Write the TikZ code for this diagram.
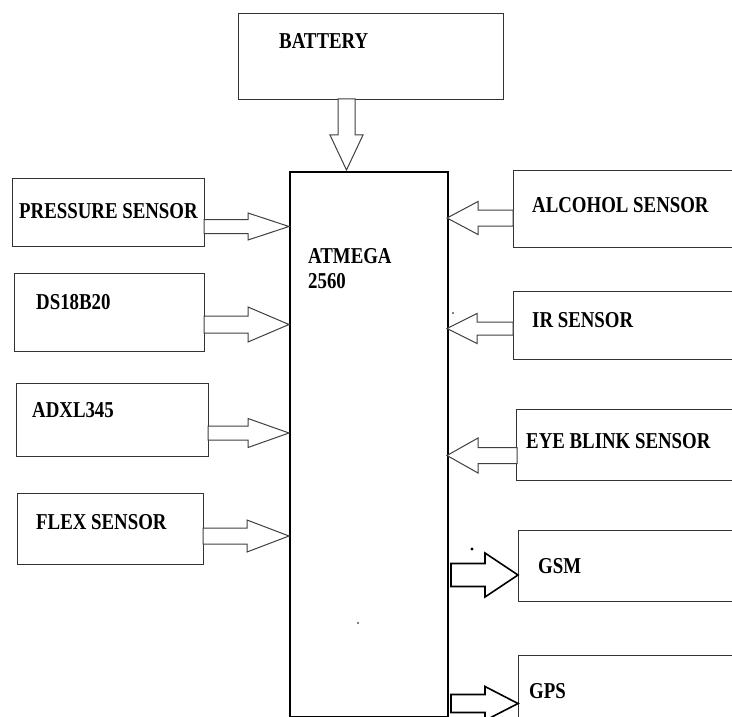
\documentclass[tikz,border=0pt]{standalone}
\usepackage{fontspec}
\setmainfont{Liberation Serif}[FakeStretch=0.83]
\newcommand\harrow[7][]{% tail x, head-base x, tip x, centre y, shaft half, head half
  \draw[barrow,#1] (#2,#5-#6) -- (#3,#5-#6) -- (#3,#5-#7) -- (#4,#5) -- (#3,#5+#7) -- (#3,#5+#6) -- (#2,#5+#6) -- cycle;}
\begin{document}
\begin{tikzpicture}[x=1pt,y=-1pt,
  box/.style={draw=black!80,line width=1.4pt,inner sep=0pt,anchor=north west},
  lbl/.style={anchor=base west,inner sep=0pt,font=\fontsize{22.7}{26}\selectfont\bfseries},
  barrow/.style={draw=black!75,line width=1pt,fill=white,line join=miter},
  outarrow/.style={draw=black,line width=1.6pt}]
\clip (0,0) rectangle (732,717);
\fill[white] (0,0) rectangle (732,717);
% boxes
\node[box,minimum width=265pt,minimum height=86pt] (bat) at (238,13) {};
\node[box,draw=black,line width=2pt,minimum width=158pt,minimum height=545pt] (mcu) at (289,171) {};
\node[box,minimum width=192pt,minimum height=68pt] (pres) at (12,178) {};
\node[box,minimum width=190pt,minimum height=78pt] (ds) at (14,273) {};
\node[box,minimum width=192pt,minimum height=73pt] (adxl) at (16,383) {};
\node[box,minimum width=186pt,minimum height=71pt] (flex) at (17,493) {};
\node[box,minimum width=230pt,minimum height=77pt] (alc) at (513,170) {};
\node[box,minimum width=230pt,minimum height=68pt] (ir) at (513,291) {};
\node[box,minimum width=230pt,minimum height=71pt] (eye) at (516,409) {};
\node[box,minimum width=230pt,minimum height=71pt] (gsm) at (518,530) {};
\node[box,minimum width=230pt,minimum height=80pt] (gps) at (518,655) {};
% labels
\node[lbl] (tbat) at (279,49) {BATTERY};
\node[lbl] (tmcu1) at (308,263) {ATMEGA};
\node[lbl] (tmcu2) at (308,288) {2560};
\node[lbl] (tpres) at (19,218) {PRESSURE SENSOR};
\node[lbl] (tds) at (36,309) {DS18B20};
\node[lbl] (tadxl) at (32,417) {ADXL345};
\node[lbl] (tflex) at (36,529) {FLEX SENSOR};
\node[lbl] (talc) at (532,212) {ALCOHOL SENSOR};
\node[lbl] (tir) at (532,327) {IR SENSOR};
\node[lbl] (teye) at (526,448) {EYE BLINK SENSOR};
\node[lbl] (tgsm) at (538,573) {GSM};
\node[lbl] (tgps) at (529,698) {GPS};
% block arrows
\draw[barrow] (338,99) -- (355,99) -- (355,135) -- (363,135) -- (346.5,170) -- (330,135) -- (338,135) -- cycle;
\harrow{204}{248}{289}{226.5}{7}{13.5}
\harrow{204}{248}{289}{324.5}{8.5}{17.5}
\harrow{208}{248}{289}{433}{7}{14.5}
\harrow{203}{247}{289}{536}{8}{16}
\harrow{513}{478}{447}{218}{8}{16.5}
\harrow{513}{477}{447}{328.5}{6.5}{15}
\harrow{517}{478}{447}{455.5}{8}{17.5}
\harrow[outarrow]{451}{485}{518}{575}{11.5}{22}
\harrow[outarrow]{451}{485}{518}{703.5}{9}{17}
% stray dots
\fill (453,313) circle (0.9);
\fill (472,549) circle (1.6);
\fill (358,623) circle (0.8);
\end{tikzpicture}
\end{document}
